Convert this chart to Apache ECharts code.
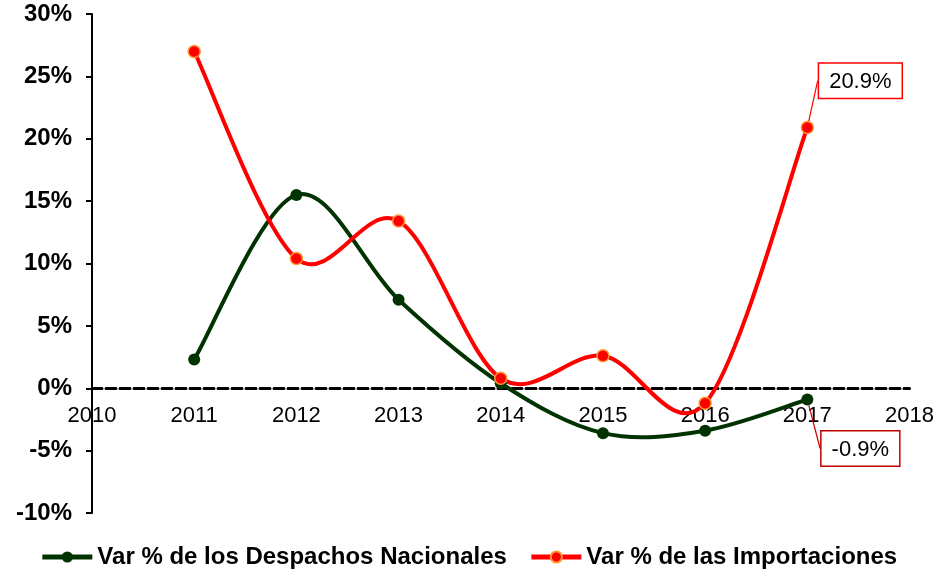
<!DOCTYPE html>
<html>
<head>
<meta charset="utf-8">
<script src="https://cdn.jsdelivr.net/npm/echarts@6/dist/echarts.min.js"></script>
<style>html,body{margin:0;padding:0;background:#fff}#c{width:937px;height:576px}</style>
</head>
<body>
<div id="c"></div>
<script>
const years = [2011, 2012, 2013, 2014, 2015, 2016, 2017];
const despachos = [2.3, 15.5, 7.1, 0.4, -3.6, -3.4, -0.9];
const importaciones = [27.0, 10.4, 13.4, 0.8, 2.6, -1.2, 20.9];
const nameDesp = 'Var % de los Despachos Nacionales';
const nameImp = 'Var % de las Importaciones';
const FONT = "Arial, 'Liberation Sans', sans-serif";
const GREEN = '#003300';
const RED = '#ff0000';

function build(vals, labelColor, pos) {
  return vals.map((v, i) => {
    const item = { value: [years[i], v] };
    if (i === vals.length - 1) {
      item.label = {
        show: true, position: pos,
        formatter: (p) => p.value[1].toFixed(1) + '%',
        fontFamily: FONT, fontSize: 22, color: '#000',
        backgroundColor: '#fff', borderColor: labelColor, borderWidth: 1.5,
        padding: [7, 10, 5, 10]
      };
      item.labelLine = { show: true, lineStyle: { color: labelColor, width: 1.2 } };
    }
    return item;
  });
}

// Excel-like smoothed line drawn from data points through the axis scales
function smoothRender(vals, color) {
  return function (params, api) {
    const i = params.dataIndex;
    const n = vals.length;
    if (i >= n - 1) return null;
    const P = (k) => api.coord([years[Math.max(0, Math.min(n - 1, k))], vals[Math.max(0, Math.min(n - 1, k))]]);
    const p0 = P(i - 1), p1 = P(i), p2 = P(i + 1), p3 = P(i + 2);
    return {
      type: 'bezierCurve',
      shape: {
        x1: p1[0], y1: p1[1], x2: p2[0], y2: p2[1],
        cpx1: p1[0] + (p2[0] - p0[0]) / 6, cpy1: p1[1] + (p2[1] - p0[1]) / 6,
        cpx2: p2[0] - (p3[0] - p1[0]) / 6, cpy2: p2[1] - (p3[1] - p1[1]) / 6
      },
      style: { stroke: color, lineWidth: 4, fill: null, lineCap: 'round' }
    };
  };
}

const chart = echarts.init(document.getElementById('c'));
chart.setOption({
  animation: false,
  grid: { left: 92, right: 27, top: 14, bottom: 63, containLabel: false },
  legend: {
    bottom: 2, left: 'center', itemWidth: 50, itemHeight: 14, itemGap: 22,
    textStyle: { fontFamily: FONT, fontSize: 24, fontWeight: 'bold', color: '#000' },
    data: [
      { name: nameDesp, lineStyle: { color: GREEN, width: 5, opacity: 1 } },
      { name: nameImp, lineStyle: { color: RED, width: 5, opacity: 1 } }
    ]
  },
  xAxis: {
    type: 'value', min: 2010, max: 2018, interval: 1,
    offset: -125,
    axisLine: { onZero: false, lineStyle: { color: '#000', width: 3, type: [10, 4] } },
    axisTick: { show: false },
    splitLine: { show: false },
    axisLabel: { fontFamily: FONT, fontSize: 22, color: '#000', margin: 17, formatter: (v) => String(v) }
  },
  yAxis: {
    type: 'value', min: -10, max: 30, interval: 5,
    axisLine: { show: true, lineStyle: { color: '#000', width: 2 } },
    axisTick: { show: true, length: 6, lineStyle: { color: '#000', width: 2 } },
    splitLine: { show: false },
    axisLabel: { fontFamily: FONT, fontSize: 24, fontWeight: 'bold', color: '#000', margin: 20, formatter: (v) => v + '%' }
  },
  series: [
    {
      name: '_dLine', type: 'custom', renderItem: smoothRender(despachos, GREEN),
      data: years.map((y, i) => [y, despachos[i]]), z: 2, silent: true
    },
    {
      name: '_iLine', type: 'custom', renderItem: smoothRender(importaciones, RED),
      data: years.map((y, i) => [y, importaciones[i]]), z: 3, silent: true
    },
    {
      name: nameDesp, type: 'line',
      data: build(despachos, '#c00000', 'bottom'),
      symbol: 'circle', symbolSize: 12,
      lineStyle: { color: GREEN, width: 4, opacity: 0 },
      itemStyle: { color: GREEN },
      labelLayout: () => ({ dx: 53, dy: 21 }),
      z: 4
    },
    {
      name: nameImp, type: 'line',
      data: build(importaciones, RED, 'top'),
      symbol: 'circle', symbolSize: 12,
      lineStyle: { color: RED, width: 4, opacity: 0 },
      itemStyle: { color: RED, borderColor: '#ff9933', borderWidth: 1.5 },
      labelLayout: () => ({ dx: 53, dy: -18 }),
      z: 5
    }
  ]
});
</script>
</body>
</html>
